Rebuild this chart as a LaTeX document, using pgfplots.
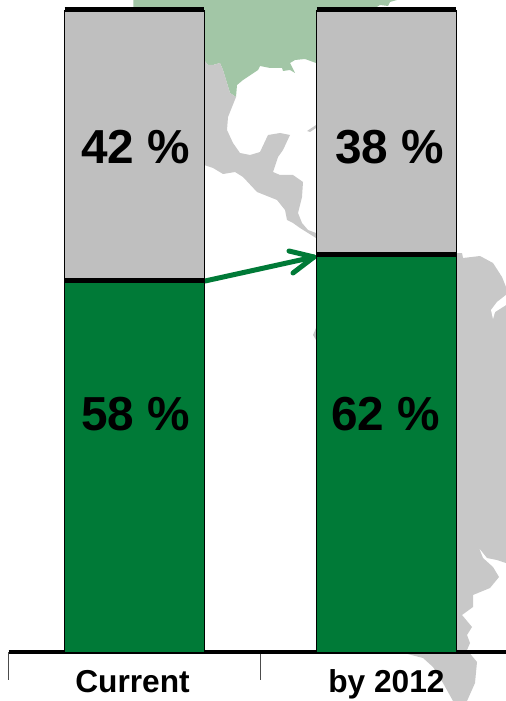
\documentclass[border=0pt]{standalone}
\usepackage{fontspec}
\setmainfont{Liberation Sans}
\usepackage{pgfplots}
\pgfplotsset{compat=1.18}
\definecolor{barGreen}{HTML}{007A37}
\definecolor{barGray}{HTML}{BFBFBF}
\definecolor{mapGray}{HTML}{C8C8C8}
\definecolor{mapGreen}{HTML}{A2C6A6}
\newcommand{\biglab}{\bfseries\fontsize{47.9}{50}\selectfont}
\pgfplotsset{main geom/.style={
  at={(8.5bp,49bp)},anchor=south west,scale only axis,width=497.5bp,height=652bp,
  xmin=-0.5,xmax=1.4742,ymin=0,ymax=101.558}}
\begin{document}
\begin{tikzpicture}
\path[use as bounding box] (0,0) rectangle (506bp,701bp);
% background map and arrow, in picture pixels
\begin{axis}[at={(0,0)},anchor=south west,scale only axis,width=506bp,height=701bp,
  xmin=0,xmax=506,ymin=0,ymax=701,y dir=reverse,hide axis]
\addplot[fill=mapGreen,draw=none] coordinates {(133.3,0)(133.3,8)(204,8)(204,60)(208,65)(213,65)(220,63)(223,70)(227,83)(230,93)(236,97)(237,85)(243,80)(258,70)(260,66)(270,68)(282,68)(283,71)(290,70)(295,73)(290,63)(295,60)(305,59)(316,63)(320,20)(375,8)(380,5)(380,0)} --cycle;
\addplot[fill=mapGreen,draw=none] coordinates {(380,5)(388,6)(390,2)(397,0)(380,0)} --cycle;
\addplot[fill=mapGray,draw=none] coordinates {(204,60)(208,65)(213,65)(220,63)(223,70)(227,83)(230,93)(236,97)(232,107)(228,117)(227,130)(233,143)(240,153)(250,155)(260,152)(268,135)(280,133)(290,135)(283,150)(278,157)(273,172)(280,175)(293,175)(303,182)(302,197)(298,213)(302,223)(308,230)(316,233)(316,238)(308,233)(300,228)(293,223)(287,220)(285,210)(277,200)(257,192)(243,177)(235,172)(223,174)(213,168)(204,165)} --cycle;
\addplot[fill=mapGray,draw=none] coordinates {(307,131)(316,125)(316,128)(310,132)} --cycle;
\addplot[fill=mapGray,draw=none] coordinates {(316,328)(313,335)(316,340)} --cycle;
\addplot[fill=mapGray,draw=none] coordinates {(456,253)(462,253)(463,258)(480,256)(493,263)(502,277)(506,287)(506,563)(497,560)(487,558)(479,548)(483,558)(493,567)(499,577)(490,588)(473,595)(473,607)(462,615)(472,627)(467,635)(470,643)(467,650)(477,662)(475,683)(467,701)(453,701)(443,683)(433,667)(423,658)(400,652)(400,300)} --cycle;
\addplot[fill=white,draw=none] coordinates {(506,295)(497,302)(491,310)(493,319)(495,312)(506,305)} --cycle;
\addplot[color=barGreen,line width=5bp,line cap=round,line join=round] coordinates {(205,281)(314,257)(289,251)};
\addplot[color=barGreen,line width=5bp,line cap=round,line join=round] coordinates {(314,257)(293,273)};
\end{axis}
% stacked bars, category ticks
\begin{axis}[main geom,axis x line=bottom,axis y line=none,axis line style={-,line width=3.5bp,black},
  ybar stacked,bar width=139.5bp,
  xtick={0,1},xticklabels={Current\kern4bp,by 2012},major x tick style={draw=none},major tick length=0pt,
  minor xtick={-0.5,0.5},minor tick length=28bp,tick align=outside,
  minor x tick style={line width=0.6bp,color=black!70},
  xticklabel style={font=\bfseries\fontsize{31.8}{33}\selectfont,text height=22bp,text depth=6bp,inner sep=0pt,yshift=-18bp},
  clip=false]
\addplot[fill=barGreen,draw=black,line width=0.7bp] coordinates {(0,58)(1,62)};
\addplot[fill=barGray,draw=black,line width=0.7bp] coordinates {(0,42)(1,38)};
\end{axis}
% heavy rules on the segment edges, value labels
\begin{axis}[main geom,hide axis,clip=false]
\addplot[black,line width=5bp,line cap=butt] coordinates {(-0.2768,57.85)(0.2768,57.85)};
\addplot[black,line width=5bp,line cap=butt] coordinates {(-0.2768,100)(0.2768,100)};
\addplot[black,line width=5bp,line cap=butt] coordinates {(0.7232,61.85)(1.2768,61.85)};
\addplot[black,line width=5bp,line cap=butt] coordinates {(0.7232,100)(1.2768,100)};
\node[anchor=base,inner sep=0pt,font=\biglab] at (axis cs:0.005,76.05) {42 \%};
\node[anchor=base,inner sep=0pt,font=\biglab] at (axis cs:1.013,76.05) {38 \%};
\node[anchor=base,inner sep=0pt,font=\biglab] at (axis cs:0.005,34.45) {58 \%};
\node[anchor=base,inner sep=0pt,font=\biglab] at (axis cs:0.996,34.45) {62 \%};
\end{axis}
\end{tikzpicture}
\end{document}
